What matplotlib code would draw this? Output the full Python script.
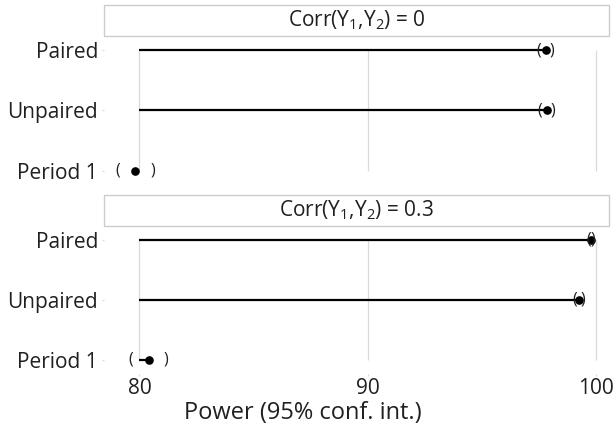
import matplotlib.pyplot as plt
from matplotlib.patches import Rectangle

plt.rcParams["font.family"] = ["Open Sans", "DejaVu Sans"]
plt.rcParams["mathtext.fontset"] = "custom"
plt.rcParams["mathtext.rm"] = "Open Sans"
plt.rcParams["mathtext.it"] = "Open Sans"

methods = ["Paired", "Unpaired", "Period 1"]
panel_titles = ["Corr(Y$_1$,Y$_2$) = 0", "Corr(Y$_1$,Y$_2$) = 0.3"]

# power estimates and 95% limits, one list per panel
power_corr0 = [97.80, 97.85, 79.82]
lower_corr0 = [97.51, 97.56, 79.05]
upper_corr0 = [98.09, 98.13, 80.58]

power_corr03 = [99.79, 99.25, 80.41]
lower_corr03 = [99.70, 99.09, 79.63]
upper_corr03 = [99.88, 99.42, 81.17]

xticks = [80, 90, 100]
baseline = 80

W, H = 615, 429
fig = plt.figure(figsize=(W / 100, H / 100), dpi=100)

grid_col = "#dadada"
text_col = "#202020"
left_px, right_px = 104.3, 609.3
panels = [
    (35.7, 185.0, power_corr0, lower_corr0, upper_corr0),
    (225.7, 374.0, power_corr03, lower_corr03, upper_corr03),
]

for i, (top, bot, est, lo, hi) in enumerate(panels):
    ax = fig.add_axes([left_px / W, 1 - bot / H, (right_px - left_px) / W, (bot - top) / H])
    ypos = list(range(len(methods)))

    # grid lines only across the category range
    ax.vlines(xticks, 0, len(methods) - 1, color=grid_col, lw=0.9, zorder=1)
    # needles from the baseline to each estimate
    ax.hlines(ypos, baseline, est, color="black", lw=1.6, zorder=2)
    ax.plot(est, ypos, "o", color="black", ms=5.2, zorder=3)
    for y, l, h in zip(ypos, lo, hi):
        ax.text(l, y, "(", ha="center", va="center", fontsize=11.5, color=text_col, zorder=3)
        ax.text(h, y, ")", ha="center", va="center", fontsize=11.5, color=text_col, zorder=3)

    ax.set_xlim(78.457, 100.596)
    ax.set_ylim(2.237, -0.237)
    ax.set_yticks(ypos)
    ax.set_yticklabels(methods, fontsize=15, color=text_col)
    ax.set_xticks(xticks)
    if i == 0:
        ax.tick_params(axis="x", length=0, labelbottom=False)
    else:
        ax.set_xticklabels([str(t) for t in xticks], fontsize=15, color=text_col)
        ax.tick_params(axis="x", length=1.5, width=0.8, color=grid_col, pad=1.5)
    ax.tick_params(axis="y", length=1.5, width=0.8, color=grid_col, pad=3)
    for s in ax.spines.values():
        s.set_visible(False)
    ax.patch.set_alpha(0)

    # panel header strip
    hdr_top = top - 30.5
    fig.patches.append(Rectangle((left_px / W, 1 - top / H), (right_px - left_px) / W, 30.5 / H,
                                 transform=fig.transFigure, facecolor="white",
                                 edgecolor="#cccccc", lw=1.0))
    fig.text((left_px + right_px) / 2 / W, 1 - (hdr_top + 15.5) / H, panel_titles[i],
             ha="center", va="center", fontsize=15, color=text_col)

fig.text(303 / W, 1 - 413 / H, "Power (95% conf. int.)", ha="center", va="center",
         fontsize=17, color=text_col)

fig.savefig("out.png", dpi=100)
